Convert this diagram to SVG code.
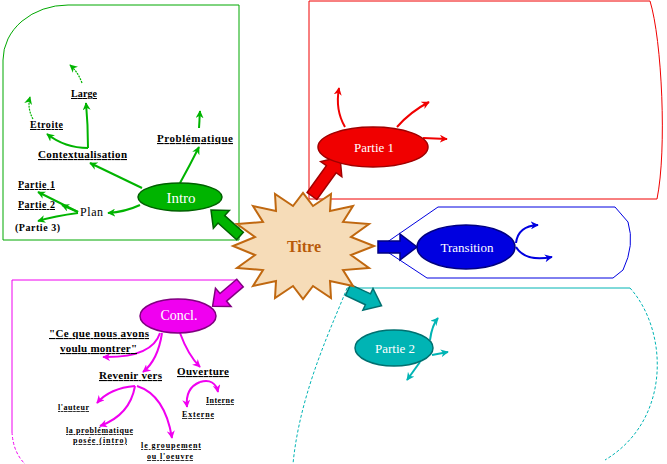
<svg xmlns="http://www.w3.org/2000/svg" width="667" height="464" viewBox="0 0 667 464">
<defs>
<style>
.lbl{font-family:"Liberation Serif",serif;font-weight:bold;fill:#000;text-decoration:underline}
.nt{font-family:"Liberation Serif",serif;fill:#fff;text-anchor:middle}
.ln{fill:none;stroke-width:2}
.g{stroke:#00b400}.r{stroke:#f00000}.b{stroke:#0000e0}.t{stroke:#00b4b4}.m{stroke:#f000f0}
</style>
<marker id="ag" viewBox="0 0 10 10" refX="9" refY="5" markerWidth="8" markerHeight="8" markerUnits="userSpaceOnUse" orient="auto"><path d="M0,0 L10,5 L0,10 L3,5 Z" fill="#00b400"/></marker>
<marker id="ar" viewBox="0 0 10 10" refX="9" refY="5" markerWidth="8" markerHeight="8" markerUnits="userSpaceOnUse" orient="auto"><path d="M0,0 L10,5 L0,10 L3,5 Z" fill="#f00000"/></marker>
<marker id="ab" viewBox="0 0 10 10" refX="9" refY="5" markerWidth="8" markerHeight="8" markerUnits="userSpaceOnUse" orient="auto"><path d="M0,0 L10,5 L0,10 L3,5 Z" fill="#0000e0"/></marker>
<marker id="at" viewBox="0 0 10 10" refX="9" refY="5" markerWidth="8" markerHeight="8" markerUnits="userSpaceOnUse" orient="auto"><path d="M0,0 L10,5 L0,10 L3,5 Z" fill="#00b4b4"/></marker>
<marker id="am" viewBox="0 0 10 10" refX="9" refY="5" markerWidth="8" markerHeight="8" markerUnits="userSpaceOnUse" orient="auto"><path d="M0,0 L10,5 L0,10 L3,5 Z" fill="#f000f0"/></marker>
</defs>
<rect width="667" height="464" fill="#fff"/>

<g id="frames" fill="none" stroke-width="1">
<path d="M3,240 V60 A65,55 0 0 1 68,5 H239 V240 Z" stroke="#00a800"/>
<path d="M309,1 H650 C662,40 667,150 657,199 H309 Z" stroke="#f00000"/>
<path d="M438,207 H615 L628,222 Q635,245 623,270 L613,278 H427 L380,247 Z" stroke="#0000e0"/>
<path d="M347,288 H630" stroke="#00b4b4"/>
<path d="M630,288 C668,330 672,420 605,460" stroke="#00b4b4" stroke-dasharray="3,2"/>
<path d="M347,288 C335,320 300,390 293,464" stroke="#00b4b4" stroke-dasharray="3,2"/>
<path d="M237,280 H12 V432" stroke="#f000f0"/>
<path d="M12,432 Q13,452 25,464" stroke="#f000f0" stroke-dasharray="3,2"/>
</g>

<g id="connectors">
<path class="ln g" d="M180,183 Q190,165 199,147" marker-end="url(#ag)"/>
<path class="ln g" d="M199,128 L200,111" marker-end="url(#ag)"/>
<path class="ln g" d="M142,188 Q115,175 90,163" marker-end="url(#ag)"/>
<path class="ln g" d="M88,148 Q88,125 86,103" marker-end="url(#ag)"/>
<path class="ln g" d="M88,148 Q65,148 47,134" marker-end="url(#ag)"/>
<path class="g" fill="none" stroke-width="1.2" stroke-dasharray="2,1" d="M82,83 Q78,72 70,65" marker-end="url(#ag)"/>
<path class="g" fill="none" stroke-width="1.2" stroke-dasharray="2,1" d="M33,119 Q27,108 30,97" marker-end="url(#ag)"/>
<path class="ln g" d="M140,205 Q125,212 108,213" marker-end="url(#ag)"/>
<path class="ln g" d="M78,212 L38,192" marker-end="url(#ag)"/>
<path class="ln g" d="M78,212 L62,205" marker-end="url(#ag)"/>
<path class="ln g" d="M78,213 Q55,216 38,221" marker-end="url(#ag)"/>

<path class="ln r" d="M345,127 Q335,110 339,88" marker-end="url(#ar)"/>
<path class="ln r" d="M397,127 Q410,112 429,102" marker-end="url(#ar)"/>
<path class="ln r" d="M423,138 L447,139" marker-end="url(#ar)"/>

<path class="ln b" d="M516,243 Q518,226 538,225" marker-end="url(#ab)"/>
<path class="ln b" d="M516,247 Q525,262 552,257" marker-end="url(#ab)"/>

<path class="ln t" d="M430,340 Q432,325 438,318" marker-end="url(#at)"/>
<path class="ln t" d="M432,355 L448,352" marker-end="url(#at)"/>
<path class="ln t" d="M420,362 L407,380" marker-end="url(#at)"/>

<path class="ln m" d="M160,333 Q152,358 103,357" marker-end="url(#am)"/>
<path class="ln m" d="M162,333 Q158,360 143,372" marker-end="url(#am)"/>
<path class="ln m" d="M180,333 Q188,355 200,367" marker-end="url(#am)"/>
<path class="ln m" d="M135,386 Q110,388 97,403" marker-end="url(#am)"/>
<path class="ln m" d="M135,386 Q130,415 100,426" marker-end="url(#am)"/>
<path class="ln m" d="M137,386 Q165,395 172,438" marker-end="url(#am)"/>
<path class="ln m" d="M200,382 Q185,388 187,407" marker-end="url(#am)"/>
<path class="ln m" d="M200,382 Q215,378 218,392" marker-end="url(#am)"/>

<path d="M0,-5 H25 V-12 L39,0 L25,12 V5 H0 Z" transform="translate(240,236) rotate(221.9)" fill="#00b400" stroke="#006000" stroke-width="1.5"/>
<path d="M0,-6 H33 V-13 L48,0 L33,13 V6 H0 Z" transform="translate(312,196) rotate(-54.3)" fill="#f00000" stroke="#a00000" stroke-width="1.5"/>
<path d="M0,-6 H22 V-13 L39,0 L22,13 V6 H0 Z" transform="translate(378,247)" fill="#0000e0" stroke="#000080" stroke-width="1.5"/>
<path d="M0,-6 H22 V-12 L37,0 L22,12 V6 H0 Z" transform="translate(348,290) rotate(25)" fill="#00b4b4" stroke="#007070" stroke-width="1.5"/>
<path d="M0,-5 H22 V-12 L36,0 L22,12 V5 H0 Z" transform="translate(240,283) rotate(139.6)" fill="#f000f0" stroke="#800080" stroke-width="1.5"/>
</g>

<g id="titre">
<polygon points="374,246 351,255 369,268 343,270 353,286 330,281 331,298 313,286 303,299 293,286 275,298 276,281 253,286 263,270 237,268 255,255 233,246 255,237 237,224 263,222 253,206 276,211 275,194 293,206 303,193 313,206 331,194 330,211 353,206 343,222 369,224 351,237" fill="#f6dcb8" stroke="#c06810" stroke-width="2" stroke-linejoin="miter"/>
<text x="304" y="252" font-family="Liberation Serif,serif" font-weight="bold" font-size="16" fill="#b85a0a" text-anchor="middle">Titre</text>
</g>

<g id="intro">
<ellipse cx="180" cy="197" rx="42" ry="14" fill="#00b400" stroke="#006000" stroke-width="1.5"/>
<text class="nt" x="181" y="203" font-size="15">Intro</text>
</g>
<g id="partie1">
<ellipse cx="373" cy="147" rx="55" ry="20" fill="#f00000" stroke="#a00000" stroke-width="1.5"/>
<text class="nt" x="374" y="152" font-size="13">Partie 1</text>
</g>
<g id="transition">
<ellipse cx="466" cy="247" rx="49" ry="22" fill="#0000e0" stroke="#000080" stroke-width="1.5"/>
<text class="nt" x="467" y="252" font-size="13">Transition</text>
</g>
<g id="partie2">
<ellipse cx="394" cy="348" rx="39" ry="18" fill="#00b4b4" stroke="#007070" stroke-width="1.5"/>
<text class="nt" x="395" y="353" font-size="13">Partie 2</text>
</g>
<g id="concl">
<ellipse cx="178" cy="316" rx="38" ry="17" fill="#f000f0" stroke="#800080" stroke-width="1.5"/>
<text class="nt" x="179" y="320" font-size="14">Concl.</text>
</g>

<g id="intro-labels">
<text class="lbl" x="71" y="97" font-size="10" textLength="26">Large</text>
<text class="lbl" x="30" y="128" font-size="10" textLength="33">Etroite</text>
<text class="lbl" x="38" y="158" font-size="11" textLength="89">Contextualisation</text>
<text class="lbl" x="157" y="142" font-size="11" textLength="76">Problématique</text>
<text class="lbl" x="18" y="188" font-size="10" textLength="37">Partie 1</text>
<text class="lbl" x="18" y="208" font-size="10" textLength="37">Partie 2</text>
<text x="15" y="231" font-family="Liberation Serif,serif" font-weight="bold" font-size="10" textLength="45">(Partie 3)</text>
<text x="80" y="216" font-family="Liberation Serif,serif" font-size="12" textLength="23">Plan</text>
</g>

<g id="concl-labels">
<text class="lbl" x="49" y="337" font-size="11" textLength="100">"Ce que nous avons</text>
<text class="lbl" x="60" y="352" font-size="11" textLength="77">voulu montrer"</text>
<text class="lbl" x="99" y="379" font-size="11" textLength="63">Revenir vers</text>
<text class="lbl" x="177" y="375" font-size="11" textLength="52">Ouverture</text>
<text class="lbl" x="58" y="410" font-size="8" textLength="31">l'auteur</text>
<text class="lbl" x="66" y="433" font-size="8" textLength="67">la problématique</text>
<text class="lbl" x="73" y="443" font-size="8" textLength="54">posée (intro)</text>
<text class="lbl" x="141" y="448" font-size="8" textLength="60">le groupement</text>
<text class="lbl" x="147" y="459" font-size="8" textLength="46">ou l'oeuvre</text>
<text class="lbl" x="206" y="403" font-size="8" textLength="28">Interne</text>
<text class="lbl" x="182" y="417" font-size="8" textLength="32">Externe</text>
</g>
</svg>
